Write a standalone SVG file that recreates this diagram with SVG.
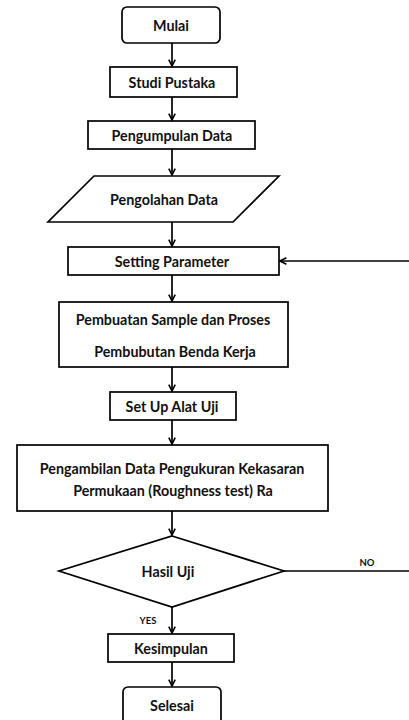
<svg xmlns="http://www.w3.org/2000/svg" width="409" height="720" viewBox="0 0 409 720">
<defs>
<style>
.n{fill:#fff;stroke:#000;stroke-width:1.7}
.t{font-family:Lato,"Liberation Sans",sans-serif;font-weight:bold;font-size:14.3px;text-anchor:middle;dominant-baseline:central;fill:#111}
.s{font-family:Lato,"Liberation Sans",sans-serif;font-weight:bold;font-size:9.5px;text-anchor:middle;fill:#111}
.c{fill:none;stroke:#000;stroke-width:1.7}
</style>
<marker id="a" viewBox="0 0 10 10" refX="9" refY="5" markerWidth="8" markerHeight="8" markerUnits="userSpaceOnUse" orient="auto">
<path d="M1,1 L9,5 L1,9" fill="none" stroke="#000" stroke-width="2"/>
</marker>
</defs>
<rect width="409" height="720" fill="#fff"/>
<g id="connectors">
<line class="c" x1="172" y1="43" x2="172" y2="66" marker-end="url(#a)"/>
<line class="c" x1="172" y1="97" x2="172" y2="120" marker-end="url(#a)"/>
<line class="c" x1="172" y1="149" x2="172" y2="175" marker-end="url(#a)"/>
<line class="c" x1="172" y1="222" x2="172" y2="246" marker-end="url(#a)"/>
<line class="c" x1="172" y1="275" x2="172" y2="301" marker-end="url(#a)"/>
<line class="c" x1="172" y1="367" x2="172" y2="391" marker-end="url(#a)"/>
<line class="c" x1="172" y1="420" x2="172" y2="444" marker-end="url(#a)"/>
<line class="c" x1="172" y1="511" x2="172" y2="535" marker-end="url(#a)"/>
<line class="c" x1="172" y1="607" x2="172" y2="633" marker-end="url(#a)"/>
<line class="c" x1="172" y1="662" x2="172" y2="686" marker-end="url(#a)"/>
<line class="c" x1="284" y1="571" x2="409" y2="571"/>
<line class="c" x1="409" y1="261" x2="280" y2="261" marker-end="url(#a)"/>
<text class="s" x="367" y="566">NO</text>
<text class="s" x="148" y="624">YES</text>
</g>
<g id="mulai"><rect class="n" x="122" y="7" width="98" height="36" rx="5"/><text class="t" x="171" y="25">Mulai</text></g>
<g id="studi"><rect class="n" x="110" y="67" width="127" height="30"/><text class="t" x="172" y="82">Studi Pustaka</text></g>
<g id="pengumpulan"><rect class="n" x="88" y="121" width="167" height="28"/><text class="t" x="172" y="135">Pengumpulan Data</text></g>
<g id="pengolahan"><polygon class="n" points="94,176 279,176 233,222 48,222"/><text class="t" x="164" y="199">Pengolahan Data</text></g>
<g id="setting"><rect class="n" x="68" y="247" width="211" height="28"/><text class="t" x="172" y="261">Setting Parameter</text></g>
<g id="pembuatan"><rect class="n" x="59" y="302" width="229" height="65"/><text class="t" x="173" y="319">Pembuatan Sample dan Proses</text><text class="t" x="175" y="351">Pembubutan Benda Kerja</text></g>
<g id="setup"><rect class="n" x="110" y="392" width="126" height="28"/><text class="t" x="172" y="406">Set Up Alat Uji</text></g>
<g id="pengambilan"><rect class="n" x="17" y="445" width="311" height="66"/><text class="t" x="172" y="468">Pengambilan Data Pengukuran Kekasaran</text><text class="t" x="173" y="490">Permukaan (Roughness test) Ra</text></g>
<g id="hasil"><polygon class="n" points="172,536 284,571 172,607 59,571"/><text class="t" x="168" y="571">Hasil Uji</text></g>
<g id="kesimpulan"><rect class="n" x="108" y="634" width="126" height="28"/><text class="t" x="171" y="648">Kesimpulan</text></g>
<g id="selesai"><rect class="n" x="123" y="687" width="98" height="40" rx="5"/><text class="t" x="172" y="705">Selesai</text></g>
</svg>
